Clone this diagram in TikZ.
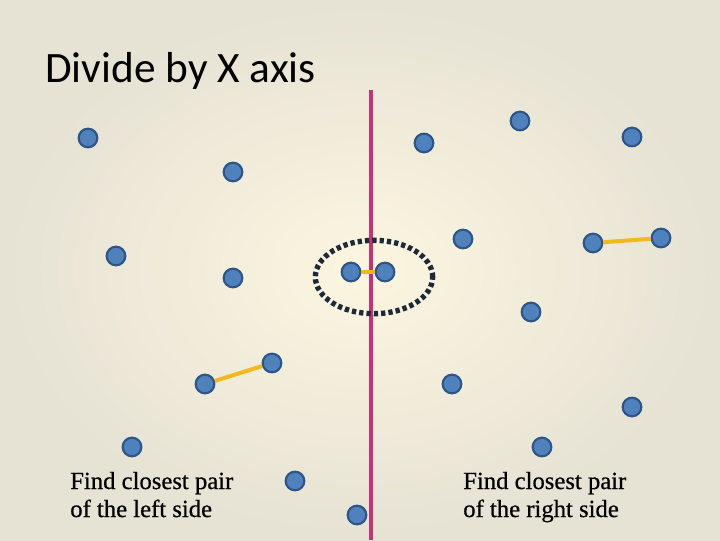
\documentclass[tikz,border=0pt]{standalone}
\usepackage{fontspec}
\usetikzlibrary{shapes.geometric}
\setmainfont{Liberation Serif}
\newfontfamily\bodyfont[FakeBold=0.6]{Liberation Serif}
\newfontfamily\titlefont{Carlito}
\definecolor{dotfill}{HTML}{4F81BD}
\definecolor{dotedge}{HTML}{2E5588}
\definecolor{divline}{HTML}{C8307A}
\definecolor{pairline}{HTML}{F2B81E}
\definecolor{ringcol}{HTML}{1B2A3A}
\definecolor{bgin}{HTML}{FCF6E0}
\definecolor{bgout}{HTML}{E6E2D4}
\tikzset{
  pt/.style={circle, fill=dotfill, draw=dotedge, line width=1.6pt, minimum size=14pt, inner sep=0pt},
  pair/.style={draw=pairline, line width=3pt},
  lbl/.style={anchor=base west, align=left, font=\bodyfont\fontsize{18.5}{21}\selectfont, inner sep=0pt}
}
\begin{document}
\begin{tikzpicture}[x=0.75pt,y=-0.75pt]
\useasboundingbox (0,0) rectangle (720,540);
\shade[inner color=bgin, outer color=bgout] (0,0) rectangle (720,540);
\node[anchor=base west, inner sep=0pt, font=\titlefont\fontsize{32.5}{36}\selectfont] (title) at (45,82) {Divide by X axis};
\coordinate (ltop) at (371,90);
\coordinate (lbot) at (371,540);
\draw[divline, line width=3pt] (ltop) -- (lbot);
\node[draw=ringcol, line width=4pt, dash pattern=on 3.2pt off 2.3pt, ellipse, minimum width=88pt, minimum height=55pt, inner sep=0pt] (ring) at (374,277) {};
% left points
\node[pt] (a1) at (88,138) {};
\node[pt] (a2) at (233,172) {};
\node[pt] (a3) at (116,256) {};
\node[pt] (a4) at (233,278) {};
\node[pt] (a5) at (272,363) {};
\node[pt] (a6) at (205,384) {};
\node[pt] (a7) at (132,447) {};
\node[pt] (a8) at (295,481) {};
\node[pt] (a9) at (357,515) {};
\node[pt] (m1) at (351,272) {};
\node[pt] (m2) at (385,272) {};
% right points
\node[pt] (b1) at (424,143) {};
\node[pt] (b2) at (520,121) {};
\node[pt] (b3) at (632,137) {};
\node[pt] (b4) at (463,239) {};
\node[pt] (b5) at (593,243) {};
\node[pt] (b6) at (661,238) {};
\node[pt] (b7) at (531,312) {};
\node[pt] (b8) at (452,384) {};
\node[pt] (b9) at (632,407) {};
\node[pt] (b10) at (542,447) {};
\draw[pair] (a6) -- (a5);
\draw[pair] (b5) -- (b6);
\draw[pair] (m1) -- (m2);
\node[lbl] (tl) at (70,517) {Find closest pair\\of the left side};
\node[lbl] (tr) at (463,517) {Find closest pair\\of the right side};
\end{tikzpicture}
\end{document}
